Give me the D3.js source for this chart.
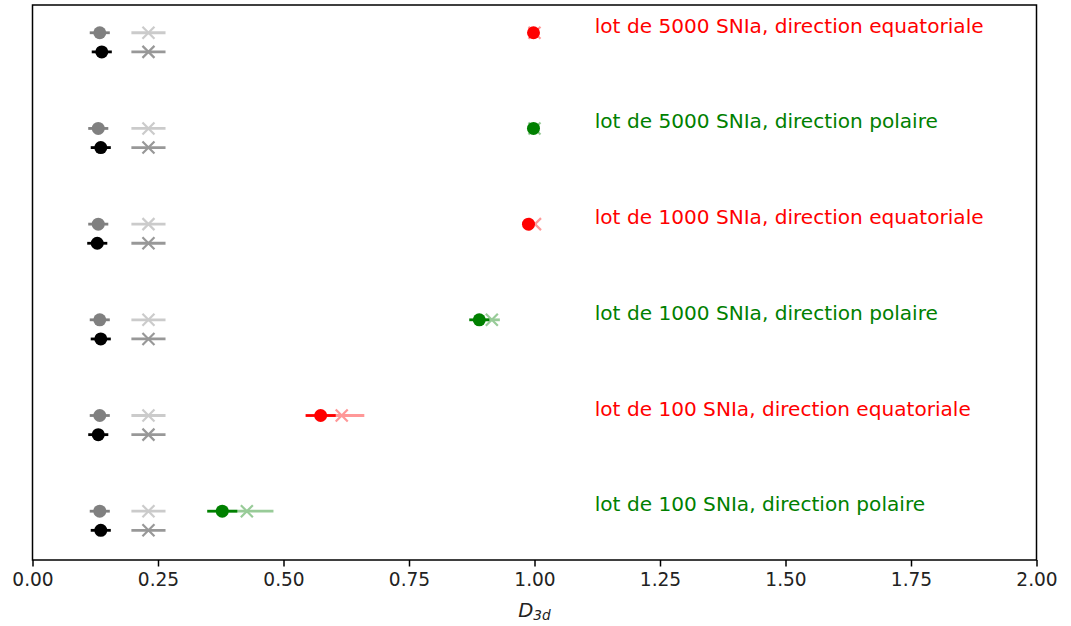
<!DOCTYPE html>
<html><head><meta charset="utf-8">
<script src="https://cdn.jsdelivr.net/npm/d3@7"></script>
<style>body{margin:0;background:#fff}svg{display:block;font-family:"DejaVu Sans",sans-serif}</style>
</head><body><svg id="c" width="1071" height="626"></svg>
<script>
const labels = ["lot de 100 SNIa, direction polaire","lot de 100 SNIa, direction equatoriale","lot de 1000 SNIa, direction polaire","lot de 1000 SNIa, direction equatoriale","lot de 5000 SNIa, direction polaire","lot de 5000 SNIa, direction equatoriale"];
const colors = ["green","red","green","red","green","red"];
const groupPos = [0,1,2,3,4,5];
const circVal = [0.378,0.574,0.890,0.988,0.998,0.998];
const circErr = [0.030,0.030,0.020,0.005,0.003,0.003];
const crossVal = [0.427,0.616,0.915,1.001,1.000,1.000];
const crossErr = [0.053,0.045,0.016,0.004,0.002,0.002];
const refUpCirc = [0.134,0.134,0.134,0.131,0.131,0.134];
const refUpCircErr = [0.02,0.02,0.02,0.02,0.02,0.02];
const refLowCirc = [0.136,0.131,0.136,0.129,0.136,0.138];
const refLowCircErr = [0.02,0.02,0.02,0.02,0.02,0.02];
const refUpCross = [0.231,0.231,0.231,0.231,0.231,0.231];
const refUpCrossErr = [0.034,0.034,0.034,0.034,0.034,0.034];
const refLowCross = [0.231,0.231,0.231,0.231,0.231,0.231];
const refLowCrossErr = [0.034,0.034,0.034,0.034,0.034,0.034];
const xTicks = [0,0.25,0.5,0.75,1,1.25,1.5,1.75,2];

const svg = d3.select("#c");
const L=32.5,R=1036.5,T=5,B=560;
const x = d3.scaleLinear().domain([0,2]).range([L,R]);
const y = d3.scaleLinear().domain([-0.41,5.39]).range([B,T]);
const off = 0.1;

function errbar(v,e,yy,color,op){
  svg.append("line").attr("x1",x(v-e)).attr("x2",x(v+e)).attr("y1",y(yy)).attr("y2",y(yy))
    .attr("stroke",color).attr("stroke-width",2.8).attr("stroke-opacity",op);
}
function circ(v,e,yy,color){
  errbar(v,e,yy,color,1);
  svg.append("circle").attr("cx",x(v)).attr("cy",y(yy)).attr("r",6.5).attr("fill",color);
}
function cross(v,e,yy,color,op){
  const g = svg.append("g").attr("opacity",op);
  g.append("line").attr("x1",x(v-e)).attr("x2",x(v+e)).attr("y1",y(yy)).attr("y2",y(yy))
    .attr("stroke",color).attr("stroke-width",2.8);
  const s=6, cx=x(v), cy=y(yy);
  g.append("path").attr("d",`M${cx-s},${cy-s}L${cx+s},${cy+s}M${cx-s},${cy+s}L${cx+s},${cy-s}`)
    .attr("stroke",color).attr("stroke-width",2.2).attr("fill","none");
}

groupPos.forEach((g,i)=>{
  circ(refUpCirc[i],refUpCircErr[i],g+off,"gray");
  cross(refUpCross[i],refUpCrossErr[i],g+off,"gray",0.4);
  circ(refLowCirc[i],refLowCircErr[i],g-off,"black");
  cross(refLowCross[i],refLowCrossErr[i],g-off,"black",0.4);
  circ(circVal[i],circErr[i],g+off,colors[i]);
  cross(crossVal[i],crossErr[i],g+off,colors[i],0.4);
  svg.append("text").attr("x",x(1.12)).attr("y",y(g+off)).attr("fill",colors[i])
    .attr("font-size",20.1).text(labels[i]);
});

svg.append("rect").attr("x",L).attr("y",T).attr("width",R-L).attr("height",B-T)
  .attr("fill","none").attr("stroke","black").attr("stroke-width",1.5);
const ax = svg.append("g").attr("transform",`translate(0,${B})`)
  .call(d3.axisBottom(x).tickValues(xTicks).tickFormat(d3.format(".2f")).tickSize(6.5).tickPadding(6));
ax.select(".domain").remove();
ax.selectAll("line").attr("stroke-width",1.5);
ax.selectAll("text").attr("font-size",18.6).attr("font-family","DejaVu Sans").attr("fill","#222");
const xl = svg.append("text").attr("x",(L+R)/2).attr("y",617).attr("text-anchor","middle")
  .attr("font-size",19.6).attr("font-style","italic").attr("fill","#222");
xl.append("tspan").text("D");
xl.append("tspan").attr("font-size",13.7).attr("dy",3).text("3d");
</script></body></html>
